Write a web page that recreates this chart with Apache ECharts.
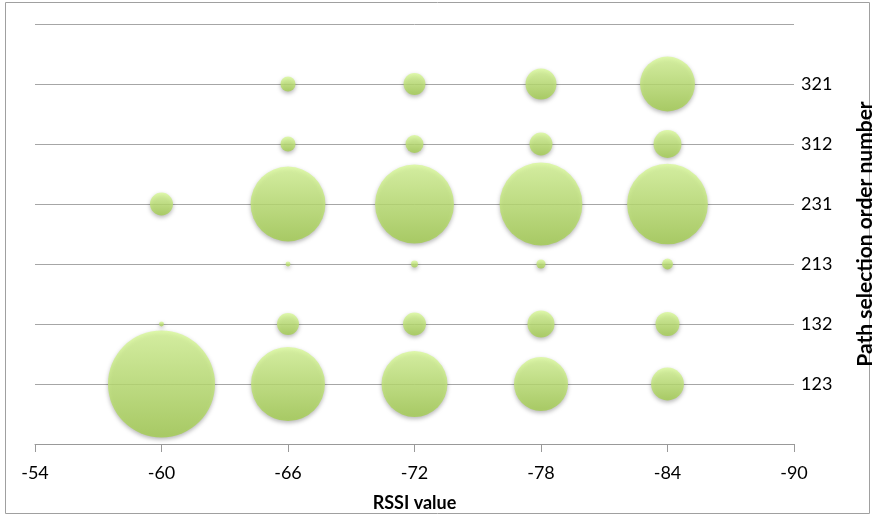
<!DOCTYPE html>
<html>
<head>
<meta charset="utf-8">
<script src="https://cdn.jsdelivr.net/npm/echarts@6/dist/echarts.min.js"></script>
<style>html,body{margin:0;padding:0;background:#fff}#c{width:873px;height:516px}</style>
</head>
<body>
<div id="c"></div>
<script>
// RSSI columns (x values)
const rssi = [-60, -66, -72, -78, -84];
// Path selection order categories (bottom to top)
const paths = ['123', '132', '213', '231', '312', '321'];
// Share (%) of each path selection order per RSSI value (bubble size)
const share123 = [95.4, 45.5, 36.2, 24.3, 9.0];
const share132 = [0.2, 4.0, 4.4, 6.1, 4.8];
const share213 = [0, 0.2, 0.4, 0.7, 1.0];
const share231 = [4.4, 46.7, 51.9, 57.1, 54.3];
const share312 = [0, 1.9, 2.7, 4.4, 6.5];
const share321 = [0, 1.9, 4.0, 8.0, 25.1];
const xTicks = [-54, -60, -66, -72, -78, -84, -90];

const rows = [share123, share132, share213, share231, share312, share321];
const data = [];
rows.forEach((row, i) => {
  row.forEach((v, j) => {
    if (v > 0) data.push([rssi[j], i + 1, v]);
  });
});

const maxShare = 95.4, maxDiam = 107;
const chart = echarts.init(document.getElementById('c'));
const font = 'Lato, "Open Sans", sans-serif';
chart.setOption({
  animation: false,
  grid: { left: 35, right: 79, top: 24, bottom: 72, containLabel: false, outerBoundsMode: 'none' },
  xAxis: {
    type: 'value', inverse: true, min: -90, max: -54, interval: 6,
    name: 'RSSI value', nameLocation: 'middle', nameGap: 50,
    nameTextStyle: { fontFamily: font, fontWeight: 'bold', fontSize: 18, color: '#000' },
    axisLine: { show: true, lineStyle: { color: '#999', width: 1 } },
    axisTick: { show: true, length: 8, lineStyle: { color: '#999' } },
    axisLabel: { margin: 20, fontFamily: font, fontSize: 18, color: '#000',
      formatter: v => xTicks.includes(v) ? String(v) : '' },
    splitLine: { show: false }
  },
  yAxis: {
    type: 'value', position: 'right', min: 0, max: 7, interval: 1,
    name: 'Path selection order number', nameLocation: 'middle', nameGap: 61, nameRotate: 90,
    nameTextStyle: { fontFamily: font, fontWeight: 'bold', fontSize: 21, color: '#000', padding: [0, 0, 0, 0] },
    axisLine: { show: false }, axisTick: { show: false },
    axisLabel: { margin: 7, fontFamily: font, fontSize: 18, color: '#000',
      formatter: v => (v >= 1 && v <= 6) ? paths[v - 1] : '' },
    splitLine: { show: true, lineStyle: { color: '#a6a6a6', width: 1 } }
  },
  series: [{
    type: 'scatter',
    data: data,
    symbolSize: d => maxDiam * Math.sqrt(d[2] / maxShare),
    itemStyle: {
      color: new echarts.graphic.LinearGradient(0, 0, 0, 1, [
        { offset: 0, color: '#dafa9a' },
        { offset: 1, color: '#a3cd4f' }
      ]),
      shadowColor: 'rgba(0,0,0,0.35)', shadowBlur: 4, shadowOffsetY: 2
    }
  }],
  graphic: [{
    type: 'rect', shape: { x: 5.5, y: 2.5, width: 864, height: 511 },
    style: { fill: null, stroke: '#a0a0a0', lineWidth: 1 }, silent: true, z: -1
  }]
});
</script>
</body>
</html>
